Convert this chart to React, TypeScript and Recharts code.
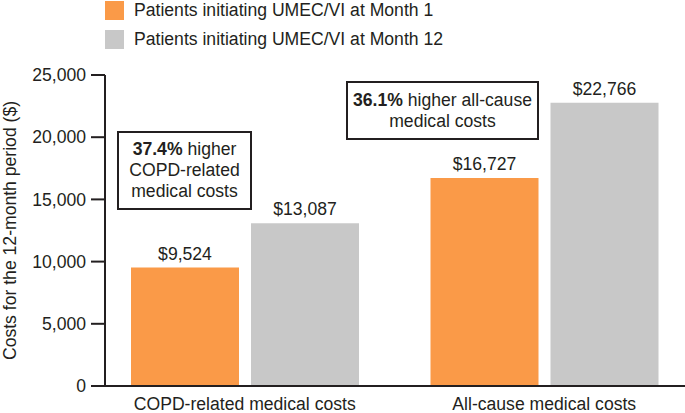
import { BarChart, Bar, XAxis, YAxis, LabelList, Label } from 'recharts'

const categories = ['COPD-related medical costs', 'All-cause medical costs']
const month1Costs = [9524, 16727]
const month12Costs = [13087, 22766]
const yTicks = [0, 5000, 10000, 15000, 20000, 25000]
const seriesNames = ['Patients initiating UMEC/VI at Month 1', 'Patients initiating UMEC/VI at Month 12']
const seriesColors = ['#FA9A48', '#C8C8C8']
const yLabel = 'Costs for the 12-month period ($)'

const FONT = '"Liberation Sans", Arial, Helvetica, sans-serif'
const INK = '#231f20'
const FS = 17.6

const data = categories.map((name, i) => ({ name, m1: month1Costs[i], m12: month12Costs[i] }))

const money = (v: any) => `$${Number(v).toLocaleString('en-US')}`

export default function App() {
  return (
    <div style={{ position: 'absolute', left: 0, top: 0, width: 685, height: 413, fontFamily: FONT, color: INK }}>
      {/* legend */}
      {seriesNames.map((s, i) => (
        <div key={s} style={{ position: 'absolute', left: 105, top: 0 + i * 29, height: 21, display: 'flex', alignItems: 'center', fontSize: FS }}>
          <span style={{ width: 19, height: 19, background: seriesColors[i], display: 'inline-block', marginRight: 10 }} />
          <span>{s}</span>
        </div>
      ))}

      <BarChart width={685} height={413} data={data} margin={{ top: 75, right: 0, bottom: 0, left: 0 }} barGap={12} barSize={108}>
        <XAxis
          dataKey="name"
          height={27}
          tickSize={0}
          tickMargin={12}
          padding={{ left: -10, right: -9 }}
          axisLine={{ stroke: INK, strokeWidth: 2 }}
          tick={{ fill: INK, fontSize: FS, fontFamily: FONT }}
        />
        <YAxis
          width={105}
          domain={[0, 25000]}
          ticks={yTicks}
          tickSize={14}
          tickMargin={5}
          tickFormatter={(v: number) => v.toLocaleString('en-US')}
          axisLine={{ stroke: INK, strokeWidth: 2 }}
          tickLine={{ stroke: INK, strokeWidth: 2 }}
          tick={{ fill: INK, fontSize: FS, fontFamily: FONT }}
        >
          <Label value={yLabel} angle={-90} position="insideLeft" offset={0} dx={10} style={{ fill: INK, fontSize: FS, fontFamily: FONT, textAnchor: 'middle' }} />
        </YAxis>
        <Bar dataKey="m1" name={seriesNames[0]} fill={seriesColors[0]} isAnimationActive={false}>
          <LabelList dataKey="m1" position="top" offset={8} formatter={money} style={{ fill: INK, fontSize: FS, fontFamily: FONT }} />
        </Bar>
        <Bar dataKey="m12" name={seriesNames[1]} fill={seriesColors[1]} isAnimationActive={false}>
          <LabelList dataKey="m12" position="top" offset={8} formatter={money} style={{ fill: INK, fontSize: FS, fontFamily: FONT }} />
        </Bar>
      </BarChart>

      {/* callout boxes */}
      <div style={{ position: 'absolute', left: 117, top: 131, width: 131, height: 75, border: `2px solid ${INK}`, fontSize: FS, lineHeight: '21px', textAlign: 'center', display: 'flex', flexDirection: 'column', justifyContent: 'center', background: '#fff' }}>
        <div><b>37.4%</b> higher</div>
        <div>COPD-related</div>
        <div>medical costs</div>
      </div>
      <div style={{ position: 'absolute', left: 346, top: 81, width: 189, height: 55, border: `2px solid ${INK}`, fontSize: FS, lineHeight: '21px', textAlign: 'center', display: 'flex', flexDirection: 'column', justifyContent: 'center', background: '#fff' }}>
        <div><b>36.1%</b> higher all-cause</div>
        <div>medical costs</div>
      </div>
    </div>
  )
}
